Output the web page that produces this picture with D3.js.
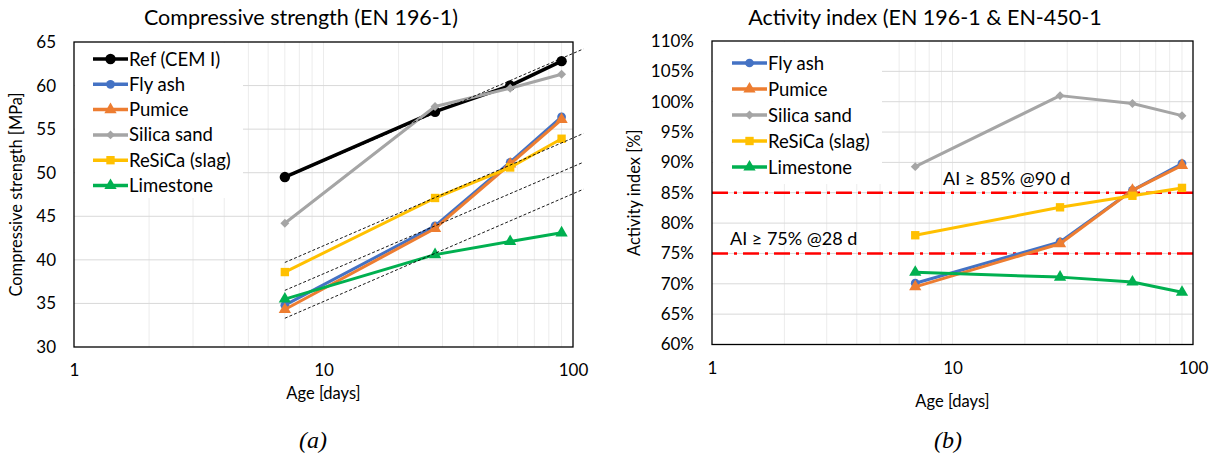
<!DOCTYPE html>
<html>
<head>
<meta charset="utf-8">
<script src="https://cdn.jsdelivr.net/npm/d3@7"></script>
<style>
  body { margin: 0; background: #fff; }
  text { font-family: Lato, "Open Sans", sans-serif; fill: #000; }
</style>
</head>
<body>
<svg id="chart" width="1217" height="457"></svg>
<script>
// ages in days
const days = [7, 28, 56, 90];

// compressive strength [MPa]
const refStrength = [49.5, 57.0, 60.0, 62.8];
const flyAshStrength = [34.8, 43.9, 51.2, 56.4];
const pumiceStrength = [34.3, 43.6, 51.0, 56.1];
const silicaStrength = [44.2, 57.6, 59.7, 61.3];
const resicaStrength = [38.6, 47.1, 50.6, 53.9];
const limestoneStrength = [35.5, 40.6, 42.1, 43.1];

// activity index [fraction]
const flyAshAI = [0.701, 0.769, 0.854, 0.898];
const pumiceAI = [0.695, 0.766, 0.854, 0.895];
const silicaAI = [0.893, 1.010, 0.997, 0.977];
const resicaAI = [0.780, 0.826, 0.845, 0.858];
const limestoneAI = [0.719, 0.711, 0.703, 0.686];

// dotted trend lines on panel (a), end points at 7 d and 110 d
const trendDays = [7, 110];
const trendStart = [49.4, 39.7, 36.5, 33.3];
const trendEnd = [64.2, 54.5, 51.2, 48.1];

// requirement lines on panel (b)
const limitValues = [0.85, 0.75];
const limitLabels = ["AI \u2265 85% @90 d", "AI \u2265 75% @28 d"];

const strengthTicks = [30, 35, 40, 45, 50, 55, 60, 65];
const aiTicks = [0.6, 0.65, 0.7, 0.75, 0.8, 0.85, 0.9, 0.95, 1.0, 1.05, 1.1];
const ageTicks = [1, 10, 100];

const colors = {
  ref: "#000000",
  flyash: "#4472C4",
  pumice: "#ED7D31",
  silica: "#A5A5A5",
  resica: "#FFC000",
  limestone: "#00B050"
};

const seriesA = [
  { name: "Ref (CEM I)", key: "ref", values: refStrength, shape: "circle", size: 85, width: 3.5 },
  { name: "Fly ash", key: "flyash", values: flyAshStrength, shape: "circle", size: 60, width: 3 },
  { name: "Pumice", key: "pumice", values: pumiceStrength, shape: "triangle", size: 65, width: 3 },
  { name: "Silica sand", key: "silica", values: silicaStrength, shape: "diamond", size: 40, width: 3 },
  { name: "ReSiCa (slag)", key: "resica", values: resicaStrength, shape: "square", size: 70, width: 3 },
  { name: "Limestone", key: "limestone", values: limestoneStrength, shape: "triangle", size: 65, width: 3 }
];

const seriesB = [
  { name: "Fly ash", key: "flyash", values: flyAshAI, shape: "circle", size: 60, width: 3 },
  { name: "Pumice", key: "pumice", values: pumiceAI, shape: "triangle", size: 65, width: 3 },
  { name: "Silica sand", key: "silica", values: silicaAI, shape: "diamond", size: 40, width: 3 },
  { name: "ReSiCa (slag)", key: "resica", values: resicaAI, shape: "square", size: 70, width: 3 },
  { name: "Limestone", key: "limestone", values: limestoneAI, shape: "triangle", size: 65, width: 3 }
];

const svg = d3.select("#chart");

function symbolPath(shape, size) {
  const types = {
    circle: d3.symbolCircle,
    triangle: d3.symbolTriangle,
    diamond: d3.symbolSquare,
    square: d3.symbolSquare
  };
  return d3.symbol().type(types[shape]).size(size)();
}

function drawMarker(g, s, cx, cy) {
  g.append("path")
    .attr("d", symbolPath(s.shape, s.size))
    .attr("transform", `translate(${cx},${cy})` + (s.shape === "diamond" ? " rotate(45)" : ""))
    .attr("fill", colors[s.key]);
}

function drawPanel(opt) {
  const g = svg.append("g");
  const x = d3.scaleLog().domain([1, 100]).range([opt.left, opt.right]);
  const y = d3.scaleLinear().domain(opt.yDomain).range([opt.bottom, opt.top]);

  // vertical minor gridlines
  g.selectAll(".vgrid")
    .data(x.ticks().filter(d => d > 1 && d < 100))
    .enter().append("line")
    .attr("x1", d => x(d)).attr("x2", d => x(d))
    .attr("y1", opt.top).attr("y2", opt.bottom)
    .attr("stroke", "#ececec").attr("stroke-width", 1);

  // horizontal gridlines
  g.selectAll(".hgrid")
    .data(opt.yTicks.slice(1, -1))
    .enter().append("line")
    .attr("x1", opt.left).attr("x2", opt.right)
    .attr("y1", d => y(d)).attr("y2", d => y(d))
    .attr("stroke", "#d9d9d9").attr("stroke-width", 1);

  // legend backdrop hides the gridlines under it
  g.append("rect")
    .attr("x", opt.left + 1).attr("y", opt.top + 1)
    .attr("width", opt.legendW).attr("height", opt.legendH)
    .attr("fill", "#fff");

  // axes (labels only)
  g.append("g")
    .attr("transform", `translate(${opt.left},0)`)
    .call(d3.axisLeft(y).tickValues(opt.yTicks).tickFormat(opt.yFormat).tickSize(0).tickPadding(18))
    .call(a => a.select(".domain").remove())
    .call(a => a.selectAll(".tick text").style("font-size", "17px").style("font-family", "Lato").attr("fill", "#000"));

  g.append("g")
    .attr("transform", `translate(0,${opt.bottom})`)
    .call(d3.axisBottom(x).tickValues(ageTicks).tickFormat(d3.format("d")).tickSize(0).tickPadding(17))
    .call(a => a.select(".domain").remove())
    .call(a => a.selectAll(".tick text").style("font-size", "17px").style("font-family", "Lato").attr("fill", "#000"));

  const line = d3.line().x(d => x(d[0])).y(d => y(d[1]));

  if (opt.extra) opt.extra(g, x, y);

  // series
  opt.series.forEach(s => {
    const pts = days.map((d, i) => [d, s.values[i]]);
    g.append("path")
      .datum(pts)
      .attr("d", line)
      .attr("fill", "none")
      .attr("stroke", colors[s.key])
      .attr("stroke-width", s.width)
      .attr("stroke-linejoin", "round");
    pts.forEach(p => drawMarker(g, s, x(p[0]), y(p[1])));
  });

  if (opt.overlay) opt.overlay(g, x, y);

  // plot border
  g.append("rect")
    .attr("x", opt.left).attr("y", opt.top)
    .attr("width", opt.right - opt.left).attr("height", opt.bottom - opt.top)
    .attr("fill", "none").attr("stroke", "#000").attr("stroke-width", 1.3);

  // legend
  const lg = g.append("g");
  opt.series.forEach((s, i) => {
    const ly = opt.legendY + i * opt.legendStep;
    lg.append("line")
      .attr("x1", opt.legendX).attr("x2", opt.legendX + 35)
      .attr("y1", ly).attr("y2", ly)
      .attr("stroke", colors[s.key]).attr("stroke-width", 3.5);
    drawMarker(lg, s, opt.legendX + 17.5, ly);
    lg.append("text")
      .attr("x", opt.legendX + 36).attr("y", ly + 6.5)
      .style("font-size", "18.5px")
      .text(s.name);
  });

  // titles
  g.append("text")
    .attr("x", opt.titleX).attr("y", 25)
    .attr("text-anchor", "middle")
    .style("font-size", "21.5px")
    .text(opt.title);

  g.append("text")
    .attr("transform", `translate(${opt.yLabelX},${(opt.top + opt.bottom) / 2}) rotate(-90)`)
    .attr("text-anchor", "middle")
    .style("font-size", "16.5px")
    .text(opt.yLabel);

  g.append("text")
    .attr("x", x(10)).attr("y", opt.xLabelY)
    .attr("text-anchor", "middle")
    .style("font-size", "16.5px")
    .text("Age [days]");

  g.append("text")
    .attr("x", opt.captionX).attr("y", 448)
    .attr("text-anchor", "middle")
    .style("font-family", "'Liberation Serif', 'DejaVu Serif', serif")
    .style("font-style", "italic")
    .style("font-size", "24px")
    .text(opt.caption);
}

drawPanel({
  left: 74, right: 573, top: 42, bottom: 347,
  yDomain: [30, 65], yTicks: strengthTicks, yFormat: d3.format("d"),
  series: seriesA,
  legendX: 93, legendY: 59, legendStep: 25.3, legendW: 168, legendH: 155,
  title: "Compressive strength (EN 196-1)", titleX: 301,
  yLabel: "Compressive strength [MPa]", yLabelX: 22,
  xLabelY: 399, caption: "(a)", captionX: 313,
  overlay: (g, x, y) => {
    const tl = d3.line().x(d => x(d[0])).y(d => y(d[1]));
    trendStart.forEach((v, i) => {
      g.append("path")
        .datum([[trendDays[0], v], [trendDays[1], trendEnd[i]]])
        .attr("d", tl)
        .attr("fill", "none")
        .attr("stroke", "#000")
        .attr("stroke-width", 0.9)
        .attr("stroke-dasharray", "3 2");
    });
  }
});

drawPanel({
  left: 712, right: 1193, top: 41, bottom: 344.5,
  yDomain: [0.6, 1.1], yTicks: aiTicks, yFormat: d3.format(".0%"),
  series: seriesB,
  legendX: 732, legendY: 63, legendStep: 26, legendW: 169, legendH: 142,
  title: "Activity index (EN 196-1 & EN-450-1", titleX: 925,
  yLabel: "Activity index [%]", yLabelX: 640,
  xLabelY: 407, caption: "(b)", captionX: 948,
  extra: (g, x, y) => {
    limitValues.forEach(v => {
      g.append("line")
        .attr("x1", x(1)).attr("x2", x(100))
        .attr("y1", y(v)).attr("y2", y(v))
        .attr("stroke", "#FF0000").attr("stroke-width", 2.5)
        .attr("stroke-dasharray", "16 6 3 6");
    });
    g.append("text")
      .attr("x", 943).attr("y", y(limitValues[0]) - 8)
      .style("font-size", "18px")
      .text(limitLabels[0]);
    g.append("text")
      .attr("x", 730).attr("y", y(limitValues[1]) - 8)
      .style("font-size", "18px")
      .text(limitLabels[1]);
  }
});
</script>
</body>
</html>
